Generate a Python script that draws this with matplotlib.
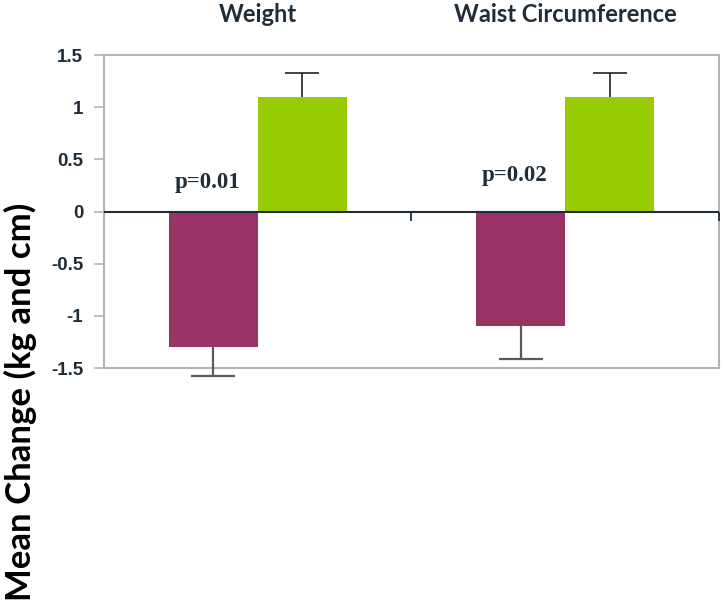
import matplotlib.pyplot as plt
import numpy as np

# Mean change per outcome, two arms
outcomes = ["Weight", "Waist Circumference"]
arm_a_mean = [-1.3, -1.1]
arm_a_err = [0.28, 0.31]
arm_b_mean = [1.1, 1.1]
arm_b_err = [0.23, 0.23]
p_values = ["p=0.01", "p=0.02"]
p_label_y = [0.28, 0.345]

dark = "#1f2d3a"
frame = "#b4b4b4"

fig = plt.figure(figsize=(7.24, 6.06), dpi=100)
ax = fig.add_axes([0.1436, 0.3927, 0.8495, 0.5165])

x = np.arange(len(outcomes)) + 0.5
w = 0.29

ax.bar(x - w / 2, arm_a_mean, w, color="#993366", zorder=2)
ax.bar(x + w / 2, arm_b_mean, w, color="#99cc00", zorder=2)

# one-sided error bars pointing away from zero; drop the cap at the bar end
_, caps_a, _ = ax.errorbar(x - w / 2, arm_a_mean, yerr=[arm_a_err, [0, 0]],
                           fmt="none", ecolor="#5a5a5a", elinewidth=1.6,
                           capsize=16, capthick=1.6, clip_on=False, zorder=3)
caps_a[1].remove()
_, caps_b, _ = ax.errorbar(x + w / 2, arm_b_mean, yerr=[[0, 0], arm_b_err],
                           fmt="none", ecolor="#222222", elinewidth=1.2,
                           capsize=12, capthick=1.2, clip_on=False, zorder=3)
caps_b[0].remove()

# zero line with small separators between groups
ax.axhline(0, color=dark, lw=1.5, zorder=4)
ax.vlines([1.0, 2.0], -0.09, 0, color=dark, lw=1.3, zorder=4, clip_on=False)

for xi, lab, yi in zip(x - w / 2, p_values, p_label_y):
    ax.text(xi - 0.02, yi, lab, ha="center", va="center", fontsize=16.5,
            fontweight="bold", family="Liberation Serif", color=dark)

ax.set_xlim(0, 2)
ax.set_ylim(-1.5, 1.5)
ax.set_yticks([1.5, 1, 0.5, 0, -0.5, -1, -1.5])
ax.set_yticklabels(["1.5", "1", "0.5", "0", "-0.5", "-1", "-1.5"])
ax.set_xticks([])
ax.tick_params(axis="y", length=7, width=1.2, color=frame, pad=8,
               labelsize=13.5, labelcolor=dark)
for lab in ax.get_yticklabels():
    lab.set_fontweight("bold")
    lab.set_family("Liberation Sans")
for s in ax.spines.values():
    s.set_color(frame)
    s.set_linewidth(1.5)

# group titles above the plot
for xi, name in zip(x, outcomes):
    ax.text(xi, 1.13, name, transform=ax.get_xaxis_transform(), ha="center",
            va="center", fontsize=17, fontweight="bold", family="Lato",
            color=dark)

fig.text(0.028, 0.337, "Mean Change (kg and cm)", rotation=90, ha="center",
         va="center", fontsize=25, fontweight="bold", family="Lato",
         color="black")

fig.savefig("out.png", dpi=100)
plt.close(fig)
